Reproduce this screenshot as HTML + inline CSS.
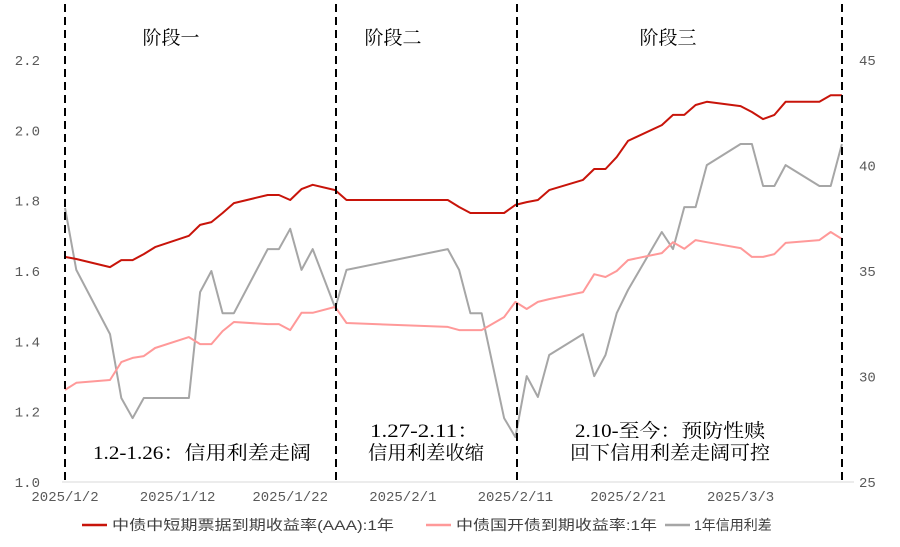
<!DOCTYPE html>
<html><head><meta charset="utf-8"><style>
body{margin:0;background:#fff}
svg{display:block}
text{font-family:"Liberation Sans","Noto Sans CJK SC",sans-serif}
.ser{font-family:"Liberation Serif","Noto Serif CJK SC",serif;font-size:19px;fill:#000}
.tick{font-family:"Liberation Mono","Noto Sans CJK SC",monospace;font-size:14px;fill:#595959}
.leg{font-size:14px;fill:#404040}
</style></head><body>
<svg id="chart" width="900" height="547" viewBox="0 0 900 547">
<g id="axes"></g>
<g id="series"></g>
<g stroke="#000" stroke-width="2" stroke-dasharray="8,5">
<line x1="65" y1="4" x2="65" y2="482"/>
<line x1="336" y1="4" x2="336" y2="482"/>
<line x1="517" y1="4" x2="517" y2="482"/>
<line x1="842" y1="4" x2="842" y2="482"/>
</g>
<text class="ser" x="171" y="44" text-anchor="middle">阶段一</text>
<text class="ser" x="393" y="44" text-anchor="middle">阶段二</text>
<text class="ser" x="668" y="44" text-anchor="middle">阶段三</text>
<text class="ser" x="93" y="459" textLength="218" lengthAdjust="spacingAndGlyphs">1.2-1.26：信用利差走阔</text>
<text class="ser" x="370" y="437" textLength="110" lengthAdjust="spacingAndGlyphs">1.27-2.11：</text>
<text class="ser" x="368" y="459" textLength="116" lengthAdjust="spacingAndGlyphs">信用利差收缩</text>
<text class="ser" x="575" y="437" textLength="190" lengthAdjust="spacingAndGlyphs">2.10-至今：预防性赎</text>
<text class="ser" x="570" y="459" textLength="200" lengthAdjust="spacingAndGlyphs">回下信用利差走阔可控</text>
<g>
<line x1="82" y1="525" x2="107" y2="525" stroke="#c8140a" stroke-width="2.5"/>
<text class="leg" x="112" y="530" textLength="282" lengthAdjust="spacingAndGlyphs">中债中短期票据到期收益率(AAA):1年</text>
<line x1="426" y1="525" x2="451" y2="525" stroke="#ff9999" stroke-width="2.5"/>
<text class="leg" x="456" y="530" textLength="201" lengthAdjust="spacingAndGlyphs">中债国开债到期收益率:1年</text>
<line x1="665" y1="525" x2="690" y2="525" stroke="#a6a6a6" stroke-width="2.5"/>
<text class="leg" x="694" y="530">1年信用利差</text>
</g>
</svg>
<script>
const days=[0,1,4,5,6,7,8,11,12,13,14,15,18,19,20,21,22,24,25,34,35,36,37,39,40,41,42,43,46,47,48,49,50,53,54,55,56,57,60,61,62,63,64,67,68,69];
const mtnYield=[1.64,1.634,1.611,1.631,1.631,1.648,1.668,1.70,1.731,1.739,1.765,1.793,1.816,1.816,1.802,1.833,1.845,1.83,1.802,1.802,1.782,1.765,1.765,1.765,1.788,1.796,1.802,1.83,1.859,1.89,1.89,1.924,1.97,2.015,2.044,2.044,2.072,2.081,2.069,2.052,2.032,2.044,2.081,2.081,2.10,2.10];
const cdbYield=[1.262,1.282,1.29,1.341,1.353,1.358,1.381,1.412,1.392,1.392,1.429,1.455,1.449,1.449,1.432,1.481,1.481,1.498,1.452,1.441,1.432,1.432,1.432,1.469,1.512,1.492,1.512,1.52,1.54,1.591,1.583,1.60,1.631,1.651,1.682,1.663,1.688,1.682,1.665,1.64,1.64,1.648,1.68,1.688,1.711,1.691];
const spread=[37.99,35.05,32.01,28.98,28.03,28.98,28.98,28.98,34.0,35.0,33.0,33.0,36.04,36.04,37.0,35.05,36.04,33.25,35.05,36.04,35.05,33.0,33.0,28.03,27.13,30.02,29.03,31.02,32.01,30.02,31.02,33.0,34.1,36.85,36.04,38.03,38.03,40.02,41.02,41.02,39.03,39.03,40.02,39.03,39.03,41.02];
const leftTicks=[1.0,1.2,1.4,1.6,1.8,2.0,2.2];
const rightTicks=[25,30,35,40,45];
const xTickDays=[0,10,20,30,40,50,60];
const xTickLabels=["2025/1/2","2025/1/12","2025/1/22","2025/2/1","2025/2/11","2025/2/21","2025/3/3"];
const NS="http://www.w3.org/2000/svg";
const X=d=>65+d*11.26;
const YL=v=>482-(v-1.0)/1.2*422;
const YR=v=>482-(v-25)/20*422;
const axes=document.getElementById('axes'),ser=document.getElementById('series');
function mk(tag,attrs,parent){const e=document.createElementNS(NS,tag);for(const k in attrs)e.setAttribute(k,attrs[k]);parent.appendChild(e);return e;}
const base=mk('line',{x1:62,y1:482,x2:854,y2:482,stroke:'#d9d9d9','stroke-width':1},axes);


for(let i=0;i<xTickDays.length;i++){
  const t=mk('text',{x:X(xTickDays[i]),y:501,'text-anchor':'middle',class:'tick'},axes);t.textContent=xTickLabels[i];
  
  
}
leftTicks.forEach(v=>{const t=mk('text',{x:40,y:YL(v)+5,'text-anchor':'end',class:'tick'},axes);t.textContent=v.toFixed(1);
  
  });
rightTicks.forEach(v=>{const t=mk('text',{x:859,y:YR(v)+5,'text-anchor':'start',class:'tick'},axes);t.textContent=v;
  
  });
function line(vals,sc,color,name){
  const p=vals.map((v,i)=>X(days[i]).toFixed(1)+','+sc(v).toFixed(1)).join(' ');
  const pl=mk('polyline',{points:p,fill:'none',stroke:color,'stroke-width':2,'stroke-linejoin':'round'},ser);
  
  
}
line(spread,YR,'#a6a6a6','spread-line');
line(cdbYield,YL,'#ff9999','cdb-yield-line');
line(mtnYield,YL,'#c8140a','mtn-yield-line');
</script>
</body></html>
